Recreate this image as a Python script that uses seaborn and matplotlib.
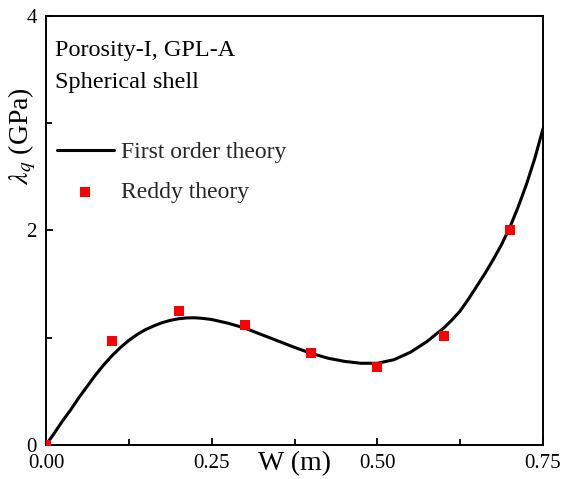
import matplotlib
matplotlib.use("Agg")
import matplotlib.pyplot as plt
import seaborn as sns
import pandas as pd
from matplotlib.ticker import FixedLocator

# Data
w_curve = [0.00, 0.0125, 0.025, 0.0375, 0.05, 0.0625, 0.075, 0.0875, 0.10, 0.1125,
           0.125, 0.1375, 0.15, 0.1625, 0.175, 0.1875, 0.20, 0.2125, 0.225, 0.2375,
           0.25, 0.275, 0.30, 0.325, 0.35, 0.375, 0.40, 0.425, 0.45, 0.475,
           0.50, 0.525, 0.55, 0.575, 0.60, 0.6125, 0.625, 0.6375, 0.65, 0.6625,
           0.675, 0.6875, 0.70, 0.7125, 0.725, 0.7375, 0.75]
lam_first_order = [0.00, 0.11, 0.225, 0.33, 0.445, 0.55, 0.655, 0.75, 0.835, 0.91,
                   0.975, 1.03, 1.075, 1.11, 1.14, 1.162, 1.177, 1.185, 1.186, 1.18,
                   1.17, 1.135, 1.09, 1.03, 0.97, 0.91, 0.855, 0.81, 0.78, 0.762,
                   0.762, 0.795, 0.865, 0.965, 1.09, 1.165, 1.25, 1.36, 1.48, 1.60,
                   1.73, 1.87, 2.03, 2.22, 2.43, 2.67, 2.95]
w_points = [0.0, 0.1, 0.2, 0.3, 0.4, 0.5, 0.6, 0.7]
lam_reddy = [0.0, 0.97, 1.25, 1.12, 0.86, 0.73, 1.02, 2.0]

x_ticks = [0.00, 0.25, 0.50, 0.75]
x_tick_labels = ["0.00", "0.25", "0.50", "0.75"]
y_ticks = [0, 2, 4]
y_tick_labels = ["0", "2", "4"]

sns.set_theme(style="ticks")
plt.rcParams["font.family"] = ["Liberation Serif", "DejaVu Serif"]
plt.rcParams["mathtext.fontset"] = "stix"

fig = plt.figure(figsize=(5.63, 4.79), dpi=100)
ax = fig.add_axes([0.0817, 0.071, 0.8828, 0.8956])

df_line = pd.DataFrame({"W": w_curve, "lam": lam_first_order})
df_pts = pd.DataFrame({"W": w_points, "lam": lam_reddy})

sns.lineplot(data=df_line, x="W", y="lam", ax=ax, color="black", linewidth=2.2,
             label="First order theory", sort=False)
sns.scatterplot(data=df_pts, x="W", y="lam", ax=ax, color="#ff0000", marker="s",
                s=55, linewidth=0, label="Reddy theory", zorder=3)

ax.set_xlim(0, 0.75)
ax.set_ylim(0, 4)
ax.set_xticks(x_ticks)
ax.set_xticklabels(x_tick_labels)
ax.set_yticks(y_ticks)
ax.set_yticklabels(y_tick_labels)
ax.xaxis.set_minor_locator(FixedLocator([0.125, 0.375, 0.625]))
ax.yaxis.set_minor_locator(FixedLocator([1, 3]))
ax.tick_params(axis="both", which="major", direction="in", length=5, width=1.3,
               labelsize=15, pad=6.5, top=False, right=False, colors="black")
ax.tick_params(axis="both", which="minor", direction="in", length=4, width=1.3,
               top=False, right=False, colors="black")
for sp in ax.spines.values():
    sp.set_linewidth(1.4)
    sp.set_color("black")
    sp.set_visible(True)

ax.set_xlabel("W (m)", fontsize=20, color="black")
ax.xaxis.set_label_coords(0.5, -0.014)
ax.set_ylabel(r"$\lambda_q$ (GPa)", fontsize=20, color="black")
ax.yaxis.set_label_coords(-0.016, 0.72)

ax.text(0.018, 0.92, "Porosity-I, GPL-A", transform=ax.transAxes, fontsize=17.5,
        va="center", ha="left", color="black")
ax.text(0.018, 0.845, "Spherical shell", transform=ax.transAxes, fontsize=17.5,
        va="center", ha="left", color="black")

leg = ax.legend(loc="upper left", bbox_to_anchor=(0.022, 0.708), frameon=False,
                fontsize=17, handlelength=2.4, handletextpad=0.3, borderpad=0,
                borderaxespad=0, labelspacing=0.8)

fig.savefig("out.png", dpi=100)
